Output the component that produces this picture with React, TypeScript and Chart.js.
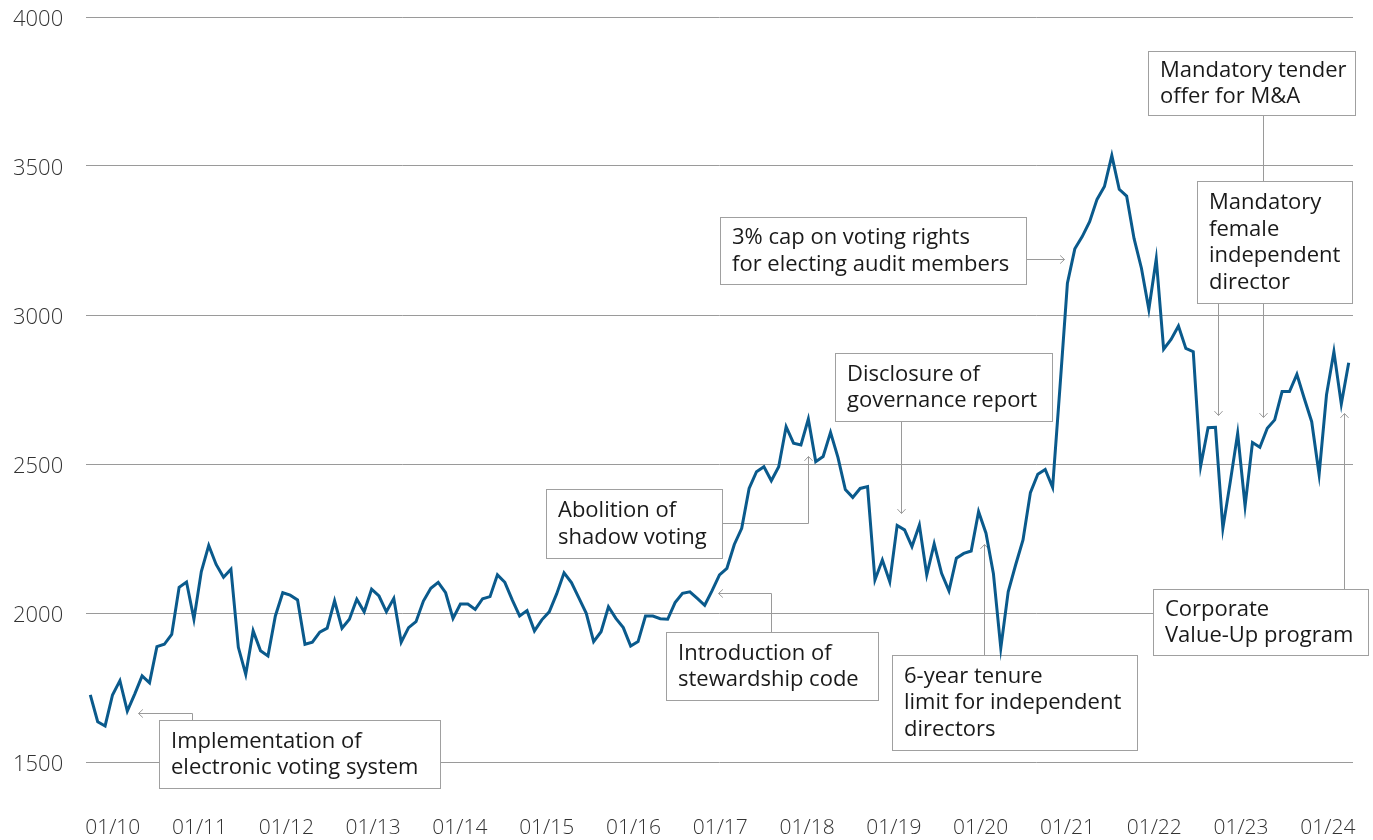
import React, { useEffect, useRef } from "react";
import { Chart, registerables } from "chart.js";

Chart.register(...registerables);

// Monthly index level (first point Dec 2009, last point early 2024)
const values: number[] = [
  1725, 1635, 1621, 1725, 1773, 1671, 1728, 1789, 1766, 1887, 1895, 1928,
  2086, 2104, 1979, 2139, 2227, 2163, 2120, 2147, 1885, 1794, 1940, 1873,
  1856, 1990, 2068, 2060, 2044, 1895, 1902, 1936, 1949, 2041, 1949, 1979,
  2046, 2004, 2080, 2057, 2004, 2049, 1902, 1951, 1971, 2040, 2083, 2103,
  2068, 1982, 2030, 2030, 2012, 2048, 2055, 2128, 2103, 2044, 1990, 2008,
  1940, 1977, 2004, 2064, 2135, 2102, 2051, 1999, 1904, 1937, 2021, 1982,
  1951, 1889, 1904, 1990, 1990, 1981, 1979, 2035, 2066, 2071, 2049, 2026,
  2075, 2128, 2150, 2230, 2284, 2418, 2474, 2491, 2444, 2491, 2625, 2570,
  2564, 2651, 2508, 2525, 2606, 2522, 2414, 2388, 2418, 2424, 2111, 2178,
  2105, 2294, 2279, 2223, 2295, 2128, 2232, 2133, 2074, 2184, 2200, 2208,
  2340, 2268, 2133, 1882, 2071, 2161, 2245, 2404, 2466, 2482, 2422, 2760,
  3107, 3222, 3263, 3313, 3388, 3431, 3535, 3422, 3399, 3257, 3157, 3019,
  3188, 2885, 2918, 2963, 2888, 2877, 2493, 2622, 2623, 2284, 2440, 2603,
  2359, 2572, 2556, 2620, 2648, 2743, 2743, 2801, 2720, 2642, 2465, 2732,
  2877, 2701, 2840,
];

const yTickValues: number[] = [1500, 2000, 2500, 3000, 3500, 4000];

const xTickLabels: string[] = [
  "01/10", "01/11", "01/12", "01/13", "01/14", "01/15", "01/16", "01/17",
  "01/18", "01/19", "01/20", "01/21", "01/22", "01/23", "01/24",
];
const xTickStart = 3.03;
const xTickStep = 11.725;

// Annotation boxes: text lines, box [xLeft, yTop, xRight, yBottom] in data units,
// connector path in data units (arrow at the last point)
const noteTexts: string[][] = [
  ["Implementation of", "electronic voting system"],
  ["Abolition of", "shadow voting"],
  ["Introduction of", "stewardship code"],
  ["Disclosure of", "governance report"],
  ["3% cap on voting rights", "for electing audit members"],
  ["6-year tenure", "limit for independent", "directors"],
  ["Mandatory tender", "offer for M&A"],
  ["Mandatory", "female", "independent", "director"],
  ["Corporate", "Value-Up program"],
];
const noteBoxes: number[][] = [
  [9.3, 1641, 47.19, 1413],
  [61.57, 2415, 85.3, 2186],
  [77.73, 1935, 106.45, 1707],
  [100.56, 2874, 129.87, 2645],
  [85.07, 3330, 126.39, 3104],
  [108.31, 1859, 141.37, 1539],
  [142.85, 3886, 170.82, 3670],
  [149.45, 3449, 170.46, 3040],
  [143.57, 2082, 172.62, 1858],
];
const notePaths: number[][][] = [
  [[13.72, 1641], [13.72, 1666], [6.5, 1666]],
  [[85.3, 2303], [96.94, 2303], [96.94, 2527]],
  [[91.98, 1935], [91.98, 2066], [84.84, 2066]],
  [[109.57, 2645], [109.57, 2337]],
  [[126.39, 3189], [131.58, 3189]],
  [[120.76, 1859], [120.76, 2232]],
  [[158.38, 3670], [158.38, 2658]],
  [[152.33, 3040], [152.33, 2663]],
  [[169.42, 2082], [169.42, 2671]],
];

const FONT = "'Open Sans', 'Noto Sans', sans-serif";

const annotationPlugin = {
  id: "notes",
  beforeDatasetsDraw(chart: any) {
    const ctx = chart.ctx;
    const xs = chart.scales.x;
    const ys = chart.scales.y;
    const px = (v: number) => xs.getPixelForValue(v);
    const py = (v: number) => ys.getPixelForValue(v);
    ctx.save();
    // connectors
    ctx.strokeStyle = "#9a9a9a";
    ctx.lineWidth = 1;
    notePaths.forEach((path) => {
      const pts = path.map((p) => [Math.round(px(p[0])) + 0.5, Math.round(py(p[1])) + 0.5]);
      ctx.beginPath();
      pts.forEach((p, i) => (i === 0 ? ctx.moveTo(p[0], p[1]) : ctx.lineTo(p[0], p[1])));
      ctx.stroke();
      const a = pts[pts.length - 1];
      const b = pts[pts.length - 2];
      const ang = Math.atan2(a[1] - b[1], a[0] - b[0]);
      const len = 6;
      ctx.beginPath();
      ctx.moveTo(a[0] - len * Math.cos(ang - 0.75), a[1] - len * Math.sin(ang - 0.75));
      ctx.lineTo(a[0], a[1]);
      ctx.lineTo(a[0] - len * Math.cos(ang + 0.75), a[1] - len * Math.sin(ang + 0.75));
      ctx.stroke();
    });
    // boxes and text
    noteBoxes.forEach((b, k) => {
      const x1 = Math.round(px(b[0])) + 0.5;
      const y1 = Math.round(py(b[1])) + 0.5;
      const x2 = Math.round(px(b[2])) + 0.5;
      const y2 = Math.round(py(b[3])) + 0.5;
      ctx.fillStyle = "#ffffff";
      ctx.fillRect(x1, y1, x2 - x1, y2 - y1);
      ctx.strokeStyle = "#a0a0a0";
      ctx.lineWidth = 1;
      ctx.strokeRect(x1, y1, x2 - x1, y2 - y1);
      const lines = noteTexts[k];
      const lh = 26.5;
      const cy = (y1 + y2) / 2;
      ctx.fillStyle = "#1a1a1a";
      ctx.font = `22px ${FONT}`;
      ctx.textAlign = "left";
      ctx.textBaseline = "middle";
      lines.forEach((t, i) => {
        const y = cy + (i - (lines.length - 1) / 2) * lh;
        ctx.fillText(t, x1 + 11.5, y);
      });
    });
    ctx.restore();
  },
};

export default function App() {
  const ref = useRef<HTMLCanvasElement | null>(null);
  useEffect(() => {
    if (!ref.current) return;
    const chart = new Chart(ref.current, {
      type: "line",
      data: {
        datasets: [
          {
            data: values.map((v, i) => ({ x: i, y: v })),
            borderColor: "#0a5a8c",
            borderWidth: 3,
            pointRadius: 0,
            tension: 0,
            fill: false,
          },
        ],
      },
      options: {
        animation: false,
        responsive: false,
        maintainAspectRatio: false,
        layout: { padding: { left: 13, right: 20, top: 17, bottom: 0 } },
        plugins: { legend: { display: false }, tooltip: { enabled: false } },
        scales: {
          x: {
            type: "linear",
            min: -0.58,
            max: 170.58,
            grid: { display: false },
            border: { display: false },
            afterBuildTicks: (s: any) => {
              s.ticks = xTickLabels.map((_, k) => ({ value: xTickStart + k * xTickStep }));
            },
            afterFit: (s: any) => {
              s.height = 78;
              s.paddingLeft = 0;
              s.paddingRight = 0;
            },
            ticks: {
              autoSkip: false,
              maxRotation: 0,
              padding: 45,
              color: "#333333",
              font: { family: FONT, size: 21, weight: "300" },
              callback: (_v: any, idx: number) => xTickLabels[idx],
            },
          },
          y: {
            type: "linear",
            min: 1500,
            max: 4000,
            afterBuildTicks: (s: any) => {
              s.ticks = yTickValues.map((v) => ({ value: v }));
            },
            afterFit: (s: any) => {
              s.width = 73;
            },
            grid: { color: "#9a9a9a", lineWidth: 1, drawTicks: false },
            border: { display: false },
            ticks: {
              crossAlign: "far",
              padding: 0,
              labelOffset: 3,
              color: "#333333",
              font: { family: FONT, size: 22, weight: "300" },
              callback: (v: any) => String(v),
            },
          },
        },
      },
      plugins: [annotationPlugin],
    } as any);
    return () => chart.destroy();
  }, []);
  return (
    <div style={{ position: "fixed", left: 0, top: 0, width: 1373, height: 840, background: "#fff" }}>
      <canvas ref={ref} width={1373} height={840} style={{ width: 1373, height: 840, display: "block" }} />
    </div>
  );
}
